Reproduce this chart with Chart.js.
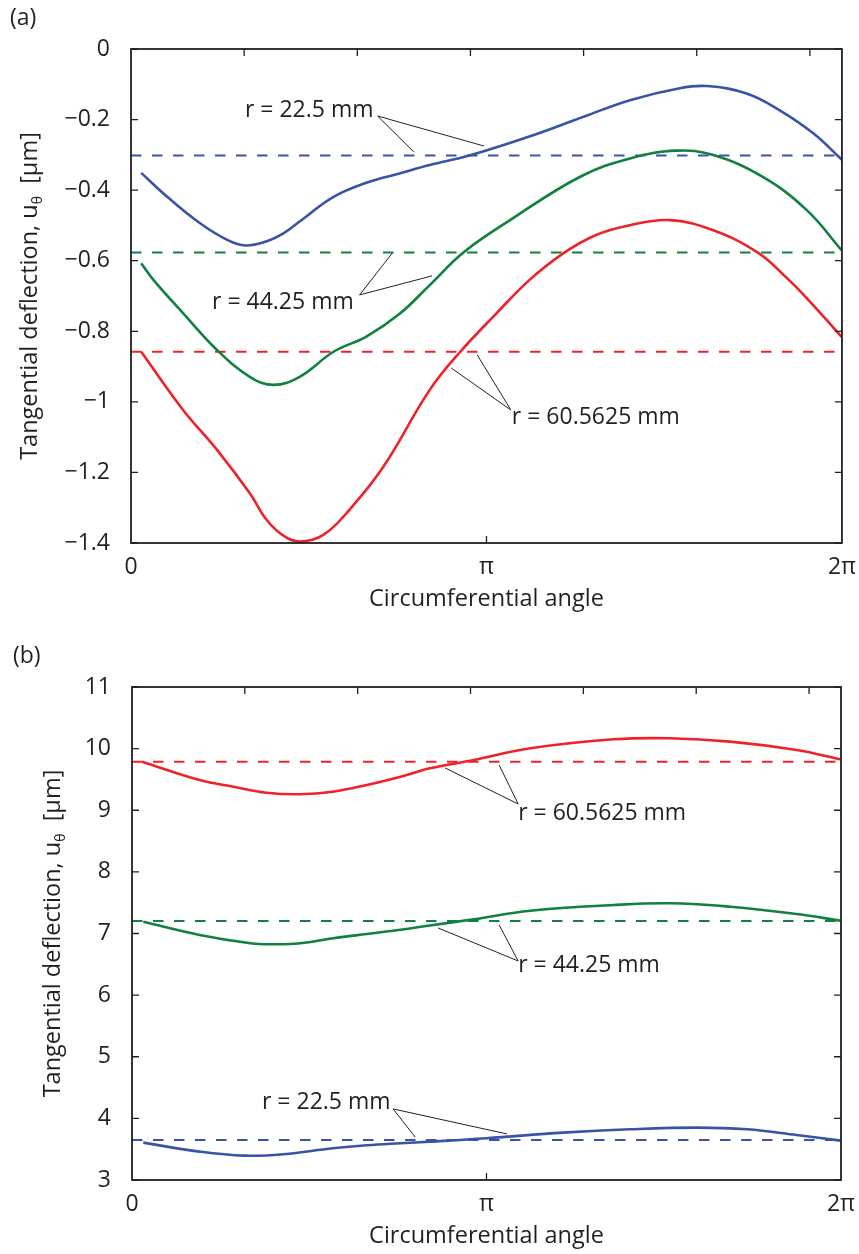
<!DOCTYPE html>
<html>
<head>
<meta charset="utf-8">
<script src="https://cdn.jsdelivr.net/npm/chart.js@4.4.1/dist/chart.umd.min.js"></script>
<style>
body{margin:0;background:#fff;}
canvas.panel{position:absolute;left:0;}
</style>
</head>
<body>
<canvas id="panelA" class="panel" width="859" height="627" style="top:0"></canvas>
<canvas id="panelB" class="panel" width="859" height="627" style="top:627px"></canvas>
<script>
const PI = Math.PI;

// ---- (a) tangential deflection, um, vs circumferential angle (rad)
const angA_r225    = [0.09, 0.32, 0.61, 0.85, 1.01, 1.20, 1.35, 1.49, 1.79, 2.08, 2.38, 2.64, 2.99, 3.52, 4.00, 4.41, 4.85, 5.09, 5.44, 5.73, 6.03, 6.28];
const uA_r225      = [-0.351, -0.419, -0.494, -0.541, -0.557, -0.545, -0.522, -0.489, -0.419, -0.379, -0.352, -0.329, -0.302, -0.248, -0.192, -0.145, -0.111, -0.105, -0.126, -0.173, -0.239, -0.313];
const angA_r4425   = [0.09, 0.20, 0.45, 0.76, 1.05, 1.26, 1.49, 1.79, 2.08, 2.38, 2.64, 2.94, 3.35, 3.97, 4.41, 4.82, 5.14, 5.58, 5.97, 6.28];
const uA_r4425     = [-0.607, -0.655, -0.745, -0.853, -0.929, -0.952, -0.929, -0.858, -0.815, -0.749, -0.669, -0.576, -0.485, -0.362, -0.310, -0.288, -0.300, -0.362, -0.456, -0.570];
const angA_r605625 = [0.09, 0.46, 0.76, 1.05, 1.20, 1.35, 1.49, 1.70, 1.93, 2.23, 2.64, 2.91, 3.23, 3.52, 3.82, 4.11, 4.40, 4.76, 5.14, 5.54, 5.80, 5.97, 6.28];
const uA_r605625   = [-0.858, -1.023, -1.136, -1.259, -1.335, -1.380, -1.396, -1.377, -1.306, -1.184, -0.966, -0.858, -0.749, -0.655, -0.579, -0.527, -0.500, -0.485, -0.513, -0.577, -0.650, -0.705, -0.816];
const meanA        = [-0.302, -0.577, -0.858];   // r = 22.5, 44.25, 60.5625 mm

// ---- (b)
const angB_r225    = [0.10, 0.60, 0.99, 1.34, 1.78, 2.08, 2.38, 2.64, 3.14, 3.82, 4.41, 5.01, 5.45, 5.89, 6.28];
const uB_r225      = [3.606, 3.460, 3.395, 3.418, 3.515, 3.564, 3.597, 3.622, 3.677, 3.769, 3.823, 3.850, 3.823, 3.731, 3.639];
const angB_r4425   = [0.10, 0.60, 1.05, 1.25, 1.49, 1.78, 2.08, 2.38, 2.64, 3.03, 3.53, 4.27, 4.77, 5.30, 5.89, 6.28];
const uB_r4425     = [7.190, 6.976, 6.841, 6.825, 6.841, 6.922, 6.992, 7.060, 7.130, 7.231, 7.370, 7.463, 7.490, 7.435, 7.317, 7.208];
const angB_r605625 = [0.09, 0.60, 0.90, 1.19, 1.49, 1.78, 2.08, 2.38, 2.64, 3.03, 3.53, 4.27, 4.77, 5.30, 5.89, 6.28];
const uB_r605625   = [9.788, 9.491, 9.382, 9.285, 9.259, 9.301, 9.410, 9.545, 9.681, 9.815, 10.005, 10.151, 10.168, 10.113, 9.978, 9.826];
const meanB        = [3.650, 7.203, 9.788];

const xTickVals   = [0, PI, 2 * PI];
const xTickLabels = ['0', '\u03c0', '2\u03c0'];
const topTickVals = [1, 2, 3, 4, 5, 6];

const BLUE = '#3a54a5', GREEN = '#118040', RED = '#ee2229', INK = '#231f20';
const FONT = '"Open Sans", sans-serif';

function pts(xs, ys) { return xs.map((x, i) => ({x: x, y: ys[i]})); }

function solid(xs, ys, color) {
  return {data: pts(xs, ys), borderColor: color, borderWidth: 2.6, pointRadius: 0,
          tension: 0.4, fill: false};
}
function dashed(level, color) {
  return {data: [{x: 0, y: level}, {x: 2 * PI, y: level}], borderColor: color, borderWidth: 2,
          borderDash: [10.5, 10.5], pointRadius: 0, fill: false};
}

// frame, inward ticks, panel letter, y title with subscript, r = ... callouts
const decor = {
  id: 'decor',
  afterDraw(chart, args, o) {
    const {ctx, chartArea: a} = chart;
    const xs = chart.scales.x, ys = chart.scales.y;
    ctx.save();
    ctx.strokeStyle = INK;
    ctx.lineWidth = 1.8;
    ctx.strokeRect(a.left, a.top, a.width, a.height);
    ctx.lineWidth = 1.3;
    ctx.beginPath();
    ys.ticks.forEach(t => {
      const py = ys.getPixelForValue(t.value);
      ctx.moveTo(a.left, py); ctx.lineTo(a.left + 7, py);
      ctx.moveTo(a.right, py); ctx.lineTo(a.right - 7, py);
    });
    topTickVals.forEach(v => {
      const px = xs.getPixelForValue(v);
      ctx.moveTo(px, a.top); ctx.lineTo(px, a.top + 7);
    });
    const pxPi = xs.getPixelForValue(PI);
    ctx.moveTo(pxPi, a.bottom); ctx.lineTo(pxPi, a.bottom - 7);
    ctx.stroke();

    ctx.fillStyle = INK;
    ctx.font = '23px ' + FONT;
    ctx.textBaseline = 'middle';
    ctx.textAlign = 'left';
    ctx.fillText(o.letter, o.letterX, o.letterY);

    // y title, rotated
    const big = '23.5px ' + FONT, small = '14px ' + FONT;
    const s1 = 'Tangential deflection, u', s2 = '\u03b8', s3 = '  [\u03bcm]';
    ctx.font = big; const w1 = ctx.measureText(s1).width, w3 = ctx.measureText(s3).width;
    ctx.font = small; const w2 = ctx.measureText(s2).width;
    const total = w1 + w2 + w3;
    ctx.translate(o.titleX, (a.top + a.bottom) / 2);
    ctx.rotate(-PI / 2);
    let cx = -total / 2;
    ctx.font = big; ctx.fillText(s1, cx, 0); cx += w1;
    ctx.font = small; ctx.fillText(s2, cx, 8); cx += w2;
    ctx.font = big; ctx.fillText(s3, cx, 0);
    ctx.setTransform(1, 0, 0, 1, 0, 0);

    // callouts
    ctx.lineWidth = 1;
    ctx.font = '23px ' + FONT;
    o.notes.forEach(n => {
      const ox = xs.getPixelForValue(n.origin[0]), oy = ys.getPixelForValue(n.origin[1]);
      ctx.beginPath();
      n.ends.forEach(e => {
        ctx.moveTo(ox, oy);
        ctx.lineTo(xs.getPixelForValue(e[0]), ys.getPixelForValue(e[1]));
      });
      ctx.stroke();
      ctx.fillText(n.text, xs.getPixelForValue(n.at[0]), ys.getPixelForValue(n.at[1]));
    });
    ctx.restore();
  }
};

function makePanel(id, p) {
  const tickFont = {family: FONT, size: 23};
  return new Chart(document.getElementById(id), {
    type: 'line',
    data: {datasets: p.datasets},
    options: {
      responsive: false,
      animation: false,
      layout: {padding: {left: 0, right: p.right, top: p.top, bottom: 0}},
      plugins: {legend: {display: false}, tooltip: {enabled: false},
                decor: p.decor},
      scales: {
        x: {
          type: 'linear', min: 0, max: 2 * PI,
          afterBuildTicks: s => { s.ticks = xTickVals.map(v => ({value: v})); },
          afterFit: s => { s.height = p.xHeight; },
          grid: {display: false}, border: {display: false},
          ticks: {font: tickFont, color: INK, padding: 3, maxRotation: 0,
                  callback: (v, i) => xTickLabels[i]},
          title: {display: true, text: 'Circumferential angle', color: INK,
                  font: {family: FONT, size: 23.5}, padding: {top: 0, bottom: p.xTitlePad}}
        },
        y: {
          min: p.yMin, max: p.yMax,
          afterFit: s => { s.width = p.yWidth; },
          grid: {display: false}, border: {display: false},
          ticks: {font: tickFont, color: INK, padding: 13, stepSize: p.step,
                  callback: v => {
                    const r = +Math.abs(v).toFixed(1);
                    return (v < -1e-9 ? '\u2212' : '') + r;
                  }}
        }
      }
    },
    plugins: [decor]
  });
}

makePanel('panelA', {
  top: 49, right: 17, xHeight: 84, yWidth: 131, xTitlePad: 14,
  yMin: -1.4, yMax: 0, step: 0.2,
  datasets: [
    solid(angA_r225, uA_r225, BLUE),
    solid(angA_r4425, uA_r4425, GREEN),
    solid(angA_r605625, uA_r605625, RED),
    dashed(meanA[0], BLUE), dashed(meanA[1], GREEN), dashed(meanA[2], RED)
  ],
  decor: {
    letter: '(a)', letterX: 10, letterY: 18, titleX: 30,
    notes: [
      {text: 'r = 22.5 mm', at: [1.007, -0.173], origin: [2.18, -0.190], ends: [[2.50, -0.292], [3.12, -0.275]]},
      {text: 'r = 44.25 mm', at: [0.716, -0.717], origin: [2.02, -0.697], ends: [[2.31, -0.578], [2.66, -0.643]]},
      {text: 'r = 60.5625 mm', at: [3.366, -1.043], origin: [3.357, -1.023], ends: [[2.83, -0.904], [3.06, -0.867]]}
    ]
  }
});

makePanel('panelB', {
  top: 60, right: 18, xHeight: 74, yWidth: 132, xTitlePad: 4,
  yMin: 3, yMax: 11, step: 1,
  datasets: [
    solid(angB_r225, uB_r225, BLUE),
    solid(angB_r4425, uB_r4425, GREEN),
    solid(angB_r605625, uB_r605625, RED),
    dashed(meanB[0], BLUE), dashed(meanB[1], GREEN), dashed(meanB[2], RED)
  ],
  decor: {
    letter: '(b)', letterX: 13, letterY: 29, titleX: 53,
    notes: [
      {text: 'r = 60.5625 mm', at: [3.422, 8.956], origin: [3.422, 9.102], ends: [[2.775, 9.686], [3.254, 9.734]]},
      {text: 'r = 44.25 mm', at: [3.422, 6.489], origin: [3.422, 6.554], ends: [[2.713, 7.090], [3.254, 7.138]]},
      {text: 'r = 22.5 mm', at: [1.152, 4.266], origin: [2.314, 4.153], ends: [[2.509, 3.698], [3.324, 3.747]]}
    ]
  }
});
</script>
</body>
</html>
